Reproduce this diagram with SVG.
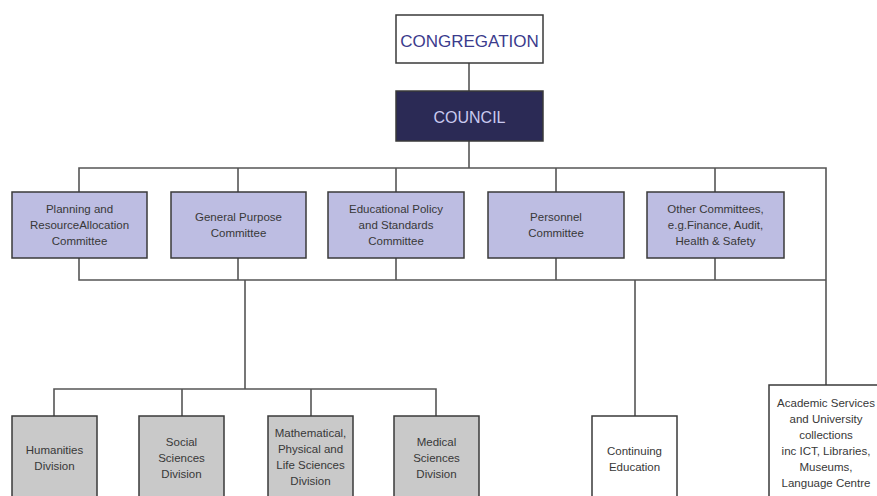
<svg xmlns="http://www.w3.org/2000/svg" width="877" height="496" viewBox="0 0 877 496">
  <style>
    .box { stroke: #3a3a3a; stroke-width: 1.5; }
    .committee { fill: #bdbde2; }
    .division { fill: #c9c9c9; }
    .plain { fill: #ffffff; }
    .wire { fill: none; stroke: #555555; stroke-width: 1.6; }
    text { font-family: "Liberation Sans", Arial, sans-serif; fill: #383838; text-anchor: middle; }
    .small { font-size: 11.5px; }
  </style>
  <rect width="877" height="496" fill="#ffffff"/>

  <!-- connectors -->
  <g id="connectors">
    <line class="wire" x1="469" y1="63" x2="469" y2="91"/>
    <line class="wire" x1="469" y1="141" x2="469" y2="168"/>
    <polyline class="wire" points="79,192 79,168 826,168 826,385"/>
    <line class="wire" x1="238" y1="168" x2="238" y2="192"/>
    <line class="wire" x1="396" y1="168" x2="396" y2="192"/>
    <line class="wire" x1="556" y1="168" x2="556" y2="192"/>
    <line class="wire" x1="715" y1="168" x2="715" y2="192"/>
    <polyline class="wire" points="79,258 79,280 826,280"/>
    <line class="wire" x1="238" y1="258" x2="238" y2="280"/>
    <line class="wire" x1="396" y1="258" x2="396" y2="280"/>
    <line class="wire" x1="556" y1="258" x2="556" y2="280"/>
    <line class="wire" x1="715" y1="258" x2="715" y2="280"/>
    <line class="wire" x1="245" y1="280" x2="245" y2="389"/>
    <polyline class="wire" points="54,416 54,389 436,389 436,416"/>
    <line class="wire" x1="182" y1="389" x2="182" y2="416"/>
    <line class="wire" x1="311" y1="389" x2="311" y2="416"/>
    <line class="wire" x1="635" y1="280" x2="635" y2="416"/>
  </g>

  <g id="congregation">
    <rect class="box plain" x="396" y="15" width="147" height="48"/>
    <text x="469.5" y="47" style="font-size:17px; fill:#3b3b8c;">CONGREGATION</text>
  </g>

  <g id="council">
    <rect x="396" y="91" width="147" height="50" fill="#2b2a55" stroke="#3a3a3a" stroke-width="1.5"/>
    <text x="469.5" y="123" style="font-size:16px; fill:#c9c9ef;">COUNCIL</text>
  </g>

  <g id="planning">
    <rect class="box committee" x="12" y="192" width="135" height="66"/>
    <text class="small" x="79.5" y="213">Planning and</text>
    <text class="small" x="79.5" y="229">ResourceAllocation</text>
    <text class="small" x="79.5" y="245">Committee</text>
  </g>

  <g id="general-purpose">
    <rect class="box committee" x="171" y="192" width="135" height="66"/>
    <text class="small" x="238.5" y="221">General Purpose</text>
    <text class="small" x="238.5" y="237">Committee</text>
  </g>

  <g id="educational-policy">
    <rect class="box committee" x="328" y="192" width="136" height="66"/>
    <text class="small" x="396" y="213">Educational Policy</text>
    <text class="small" x="396" y="229">and Standards</text>
    <text class="small" x="396" y="245">Committee</text>
  </g>

  <g id="personnel">
    <rect class="box committee" x="488" y="192" width="136" height="66"/>
    <text class="small" x="556" y="221">Personnel</text>
    <text class="small" x="556" y="237">Committee</text>
  </g>

  <g id="other-committees">
    <rect class="box committee" x="647" y="192" width="137" height="66"/>
    <text class="small" x="715.5" y="213">Other Committees,</text>
    <text class="small" x="715.5" y="229">e.g.Finance, Audit,</text>
    <text class="small" x="715.5" y="245">Health &amp; Safety</text>
  </g>

  <g id="humanities">
    <rect class="box division" x="12" y="416" width="85" height="90"/>
    <text class="small" x="54.5" y="454">Humanities</text>
    <text class="small" x="54.5" y="470">Division</text>
  </g>

  <g id="social-sciences">
    <rect class="box division" x="139" y="416" width="85" height="90"/>
    <text class="small" x="181.5" y="446">Social</text>
    <text class="small" x="181.5" y="462">Sciences</text>
    <text class="small" x="181.5" y="478">Division</text>
  </g>

  <g id="mpls">
    <rect class="box division" x="268" y="416" width="85" height="90"/>
    <text class="small" x="310.5" y="437">Mathematical,</text>
    <text class="small" x="310.5" y="453">Physical and</text>
    <text class="small" x="310.5" y="469">Life Sciences</text>
    <text class="small" x="310.5" y="485">Division</text>
  </g>

  <g id="medical-sciences">
    <rect class="box division" x="394" y="416" width="85" height="90"/>
    <text class="small" x="436.5" y="446">Medical</text>
    <text class="small" x="436.5" y="462">Sciences</text>
    <text class="small" x="436.5" y="478">Division</text>
  </g>

  <g id="continuing-education">
    <rect class="box plain" x="592" y="416" width="85" height="90"/>
    <text class="small" x="634.5" y="455">Continuing</text>
    <text class="small" x="634.5" y="471">Education</text>
  </g>

  <g id="academic-services">
    <rect class="box plain" x="769" y="385" width="120" height="121"/>
    <text class="small" x="826" y="407">Academic Services</text>
    <text class="small" x="826" y="423">and University</text>
    <text class="small" x="826" y="439">collections</text>
    <text class="small" x="826" y="455">inc ICT, Libraries,</text>
    <text class="small" x="826" y="471">Museums,</text>
    <text class="small" x="826" y="487">Language Centre</text>
  </g>
</svg>
